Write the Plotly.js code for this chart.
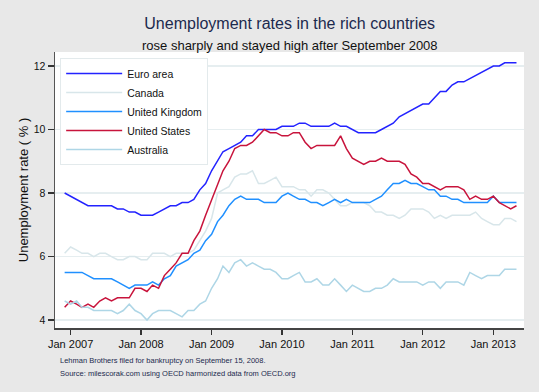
<!DOCTYPE html>
<html>
<head>
<meta charset="utf-8">
<script src="https://cdn.plot.ly/plotly-3.0.1.min.js"></script>
<style>html,body{margin:0;padding:0;background:#e8e8e8;}#chart{width:539px;height:392px;}</style>
</head>
<body>
<div id="chart"></div>
<script>
// Monthly observations, Dec 2006 – May 2013
var months = [
"2006-12-01",
"2007-01-01","2007-02-01","2007-03-01","2007-04-01","2007-05-01","2007-06-01","2007-07-01","2007-08-01","2007-09-01","2007-10-01","2007-11-01","2007-12-01",
"2008-01-01","2008-02-01","2008-03-01","2008-04-01","2008-05-01","2008-06-01","2008-07-01","2008-08-01","2008-09-01","2008-10-01","2008-11-01","2008-12-01",
"2009-01-01","2009-02-01","2009-03-01","2009-04-01","2009-05-01","2009-06-01","2009-07-01","2009-08-01","2009-09-01","2009-10-01","2009-11-01","2009-12-01",
"2010-01-01","2010-02-01","2010-03-01","2010-04-01","2010-05-01","2010-06-01","2010-07-01","2010-08-01","2010-09-01","2010-10-01","2010-11-01","2010-12-01",
"2011-01-01","2011-02-01","2011-03-01","2011-04-01","2011-05-01","2011-06-01","2011-07-01","2011-08-01","2011-09-01","2011-10-01","2011-11-01","2011-12-01",
"2012-01-01","2012-02-01","2012-03-01","2012-04-01","2012-05-01","2012-06-01","2012-07-01","2012-08-01","2012-09-01","2012-10-01","2012-11-01","2012-12-01",
"2013-01-01","2013-02-01","2013-03-01","2013-04-01","2013-05-01"
];

var euroArea = [
8.0,
7.9,7.8,7.7,7.6,7.6,7.6,7.6,7.6,7.5,7.5,7.4,7.4,
7.3,7.3,7.3,7.4,7.5,7.6,7.6,7.7,7.7,7.8,8.1,8.3,
8.7,9.0,9.3,9.4,9.5,9.6,9.8,9.8,10.0,10.0,10.0,10.0,
10.1,10.1,10.1,10.2,10.2,10.1,10.1,10.1,10.1,10.2,10.1,10.1,
10.0,9.9,9.9,9.9,9.9,10.0,10.1,10.2,10.4,10.5,10.6,10.7,
10.8,10.8,11.0,11.2,11.2,11.4,11.5,11.5,11.6,11.7,11.8,11.9,
12.0,12.0,12.1,12.1,12.1
];

var canada = [
6.1,
6.3,6.2,6.1,6.1,6.0,6.1,6.1,6.0,5.9,5.9,6.0,6.0,
5.9,5.9,6.1,6.1,6.1,6.0,6.1,6.1,6.1,6.2,6.5,6.8,
7.2,8.0,8.1,8.2,8.5,8.6,8.6,8.7,8.3,8.3,8.4,8.5,
8.2,8.2,8.2,8.1,8.1,7.9,8.1,8.1,8.0,7.8,7.6,7.6,
7.7,7.7,7.7,7.6,7.4,7.4,7.3,7.3,7.2,7.3,7.5,7.5,
7.5,7.4,7.2,7.3,7.2,7.3,7.3,7.3,7.3,7.4,7.2,7.1,
7.0,7.0,7.2,7.2,7.1
];

var unitedKingdom = [
5.5,
5.5,5.5,5.5,5.4,5.3,5.3,5.3,5.3,5.2,5.1,5.0,5.1,
5.1,5.1,5.2,5.1,5.3,5.4,5.7,5.8,5.9,6.1,6.2,6.5,
6.7,7.1,7.3,7.6,7.8,7.9,7.8,7.8,7.8,7.7,7.7,7.7,
7.9,8.0,7.9,7.8,7.8,7.7,7.7,7.6,7.7,7.8,7.7,7.8,
7.7,7.7,7.7,7.7,7.8,7.9,8.1,8.3,8.3,8.4,8.3,8.3,
8.2,8.1,8.1,7.9,7.9,7.8,7.8,7.7,7.7,7.7,7.7,7.7,
7.9,7.7,7.7,7.7,7.7
];

var unitedStates = [
4.4,
4.6,4.5,4.4,4.5,4.4,4.6,4.7,4.6,4.7,4.7,4.7,5.0,
5.0,4.9,5.1,5.0,5.4,5.6,5.8,6.1,6.1,6.5,6.8,7.3,
7.8,8.3,8.7,9.0,9.4,9.5,9.5,9.6,9.8,10.0,9.9,9.9,
9.8,9.8,9.9,9.9,9.6,9.4,9.5,9.5,9.5,9.5,9.8,9.4,
9.1,9.0,8.9,9.0,9.0,9.1,9.0,9.0,9.0,8.9,8.6,8.5,
8.3,8.3,8.2,8.1,8.2,8.2,8.2,8.1,7.8,7.9,7.8,7.8,
7.9,7.7,7.6,7.5,7.6
];

var australia = [
4.6,
4.5,4.6,4.4,4.4,4.3,4.3,4.3,4.3,4.2,4.3,4.5,4.3,
4.2,4.0,4.2,4.3,4.3,4.3,4.2,4.1,4.3,4.3,4.5,4.6,
5.0,5.3,5.7,5.5,5.8,5.9,5.7,5.8,5.7,5.6,5.6,5.5,
5.3,5.3,5.4,5.5,5.2,5.2,5.3,5.1,5.1,5.3,5.1,4.9,
5.1,5.0,4.9,4.9,5.0,5.0,5.1,5.3,5.2,5.2,5.2,5.2,
5.1,5.2,5.2,5.0,5.2,5.2,5.2,5.1,5.5,5.4,5.3,5.4,
5.4,5.4,5.6,5.6,5.6
];

var seriesNames = ["Euro area","Canada","United Kingdom","United States","Australia"];
var xTickVals = ["2007-01-01","2008-01-01","2009-01-01","2010-01-01","2011-01-01","2012-01-01","2013-01-01"];
var xTickText = ["Jan 2007","Jan 2008","Jan 2009","Jan 2010","Jan 2011","Jan 2012","Jan 2013"];
var yTickVals = [4,6,8,10,12];

var colors = ["#2323ff","#d8e6ea","#2090ff","#c8143c","#aed6e6"];
var seriesData = [euroArea, canada, unitedKingdom, unitedStates, australia];

var FONT = "Liberation Sans, Arial, Helvetica, sans-serif";

var traces = seriesData.map(function(d, k){
  return {
    x: months, y: d, type: "scatter", mode: "lines",
    name: seriesNames[k],
    line: {color: colors[k], width: 1.5}
  };
});

var layout = {
  width: 539, height: 392,
  paper_bgcolor: "#e8e8e8",
  plot_bgcolor: "#ffffff",
  margin: {l: 55, r: 15, t: 52, b: 64, pad: 0},
  font: {family: FONT, color: "#111"},
  title: {
    text: "Unemployment rates in the rich countries",
    font: {size: 16, color: "#1c2a4e", family: FONT},
    x: 0.5375, xanchor: "center", xref: "container",
    y: 1 - 23/392, yanchor: "middle", yref: "container"
  },
  showlegend: true,
  legend: {
    x: 0.011, y: 0.978, xanchor: "left", yanchor: "top",
    bgcolor: "#ffffff", bordercolor: "#e3eaec", borderwidth: 1,
    font: {size: 10.5, color: "#111", family: FONT},
    itemwidth: 56,
    traceorder: "normal"
  },
  xaxis: {
    type: "date",
    range: ["2006-10-12", "2013-06-09"],
    tickvals: xTickVals, ticktext: xTickText,
    ticks: "outside", ticklen: 5, tickwidth: 1.2, tickcolor: "#333",
    showline: true, linecolor: "#444", linewidth: 2,
    showgrid: false, zeroline: false,
    tickfont: {size: 11, color: "#111", family: FONT}
  },
  yaxis: {
    range: [3.75, 12.44],
    tickvals: yTickVals,
    ticks: "outside", ticklen: 6, tickwidth: 1.2, tickcolor: "#333",
    showline: true, linecolor: "#555", linewidth: 1.5,
    showgrid: true, gridcolor: "#e6eef0", gridwidth: 1.3,
    zeroline: false,
    tickfont: {size: 10.5, color: "#111", family: FONT},
    title: {text: "Unemployment rate ( % )", font: {size: 13, color: "#111", family: FONT}, standoff: 2}
  },
  annotations: [
    {text: "rose sharply and stayed high after September 2008", xref: "paper", yref: "paper",
     x: 0.5, y: (328-45)/276, xanchor: "center", yanchor: "middle", showarrow: false,
     font: {size: 13, color: "#111", family: FONT}},
    {text: "Lehman Brothers filed for bankruptcy on September 15, 2008.", xref: "paper", yref: "paper",
     x: (58-55)/469, y: (328-360)/276, xanchor: "left", yanchor: "middle", showarrow: false,
     font: {size: 7.5, color: "#1c2a4e", family: FONT}},
    {text: "Source: milescorak.com using OECD harmonized data from OECD.org", xref: "paper", yref: "paper",
     x: (58-55)/469, y: (328-373)/276, xanchor: "left", yanchor: "middle", showarrow: false,
     font: {size: 7.5, color: "#1c2a4e", family: FONT}}
  ]
};

Plotly.newPlot("chart", traces, layout, {displayModeBar: false, staticPlot: true});
</script>
</body>
</html>
